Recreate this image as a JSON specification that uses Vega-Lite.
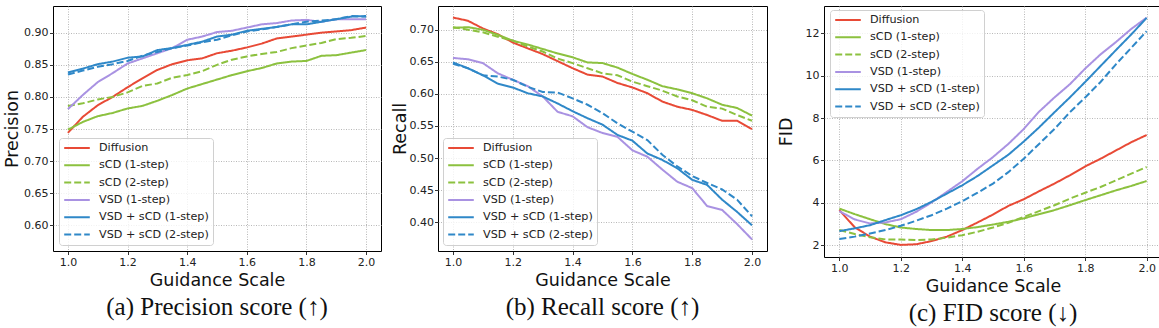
{
  "$schema": "https://vega.github.io/schema/vega-lite/v6.json",
  "background": "white",
  "padding": {"left": 3, "top": 5, "right": 0, "bottom": 0},
  "spacing": 8,
  "align": "none",
  "datasets": {
    "precision": [
      {"g": 1.00, "Diffusion": 0.744, "sCD (1-step)": 0.749, "sCD (2-step)": 0.786, "VSD (1-step)": 0.781, "VSD + sCD (1-step)": 0.838, "VSD + sCD (2-step)": 0.835},
      {"g": 1.05, "Diffusion": 0.769, "sCD (1-step)": 0.761, "sCD (2-step)": 0.790, "VSD (1-step)": 0.803, "VSD + sCD (1-step)": 0.844, "VSD + sCD (2-step)": 0.841},
      {"g": 1.10, "Diffusion": 0.787, "sCD (1-step)": 0.770, "sCD (2-step)": 0.796, "VSD (1-step)": 0.823, "VSD + sCD (1-step)": 0.851, "VSD + sCD (2-step)": 0.847},
      {"g": 1.15, "Diffusion": 0.800, "sCD (1-step)": 0.775, "sCD (2-step)": 0.800, "VSD (1-step)": 0.837, "VSD + sCD (1-step)": 0.855, "VSD + sCD (2-step)": 0.851},
      {"g": 1.20, "Diffusion": 0.815, "sCD (1-step)": 0.782, "sCD (2-step)": 0.807, "VSD (1-step)": 0.852, "VSD + sCD (1-step)": 0.861, "VSD + sCD (2-step)": 0.856},
      {"g": 1.25, "Diffusion": 0.829, "sCD (1-step)": 0.786, "sCD (2-step)": 0.817, "VSD (1-step)": 0.860, "VSD + sCD (1-step)": 0.863, "VSD + sCD (2-step)": 0.864},
      {"g": 1.30, "Diffusion": 0.842, "sCD (1-step)": 0.794, "sCD (2-step)": 0.821, "VSD (1-step)": 0.868, "VSD + sCD (1-step)": 0.873, "VSD + sCD (2-step)": 0.870},
      {"g": 1.35, "Diffusion": 0.851, "sCD (1-step)": 0.803, "sCD (2-step)": 0.830, "VSD (1-step)": 0.876, "VSD + sCD (1-step)": 0.876, "VSD + sCD (2-step)": 0.876},
      {"g": 1.40, "Diffusion": 0.857, "sCD (1-step)": 0.813, "sCD (2-step)": 0.834, "VSD (1-step)": 0.889, "VSD + sCD (1-step)": 0.881, "VSD + sCD (2-step)": 0.880},
      {"g": 1.45, "Diffusion": 0.860, "sCD (1-step)": 0.820, "sCD (2-step)": 0.840, "VSD (1-step)": 0.894, "VSD + sCD (1-step)": 0.886, "VSD + sCD (2-step)": 0.885},
      {"g": 1.50, "Diffusion": 0.868, "sCD (1-step)": 0.827, "sCD (2-step)": 0.850, "VSD (1-step)": 0.901, "VSD + sCD (1-step)": 0.894, "VSD + sCD (2-step)": 0.889},
      {"g": 1.55, "Diffusion": 0.872, "sCD (1-step)": 0.834, "sCD (2-step)": 0.858, "VSD (1-step)": 0.903, "VSD + sCD (1-step)": 0.897, "VSD + sCD (2-step)": 0.896},
      {"g": 1.60, "Diffusion": 0.877, "sCD (1-step)": 0.840, "sCD (2-step)": 0.863, "VSD (1-step)": 0.908, "VSD + sCD (1-step)": 0.903, "VSD + sCD (2-step)": 0.902},
      {"g": 1.65, "Diffusion": 0.883, "sCD (1-step)": 0.845, "sCD (2-step)": 0.867, "VSD (1-step)": 0.913, "VSD + sCD (1-step)": 0.906, "VSD + sCD (2-step)": 0.905},
      {"g": 1.70, "Diffusion": 0.891, "sCD (1-step)": 0.852, "sCD (2-step)": 0.870, "VSD (1-step)": 0.915, "VSD + sCD (1-step)": 0.909, "VSD + sCD (2-step)": 0.909},
      {"g": 1.75, "Diffusion": 0.894, "sCD (1-step)": 0.855, "sCD (2-step)": 0.876, "VSD (1-step)": 0.919, "VSD + sCD (1-step)": 0.913, "VSD + sCD (2-step)": 0.913},
      {"g": 1.80, "Diffusion": 0.897, "sCD (1-step)": 0.856, "sCD (2-step)": 0.880, "VSD (1-step)": 0.920, "VSD + sCD (1-step)": 0.913, "VSD + sCD (2-step)": 0.917},
      {"g": 1.85, "Diffusion": 0.900, "sCD (1-step)": 0.864, "sCD (2-step)": 0.884, "VSD (1-step)": 0.917, "VSD + sCD (1-step)": 0.917, "VSD + sCD (2-step)": 0.919},
      {"g": 1.90, "Diffusion": 0.902, "sCD (1-step)": 0.865, "sCD (2-step)": 0.890, "VSD (1-step)": 0.921, "VSD + sCD (1-step)": 0.921, "VSD + sCD (2-step)": 0.921},
      {"g": 1.95, "Diffusion": 0.904, "sCD (1-step)": 0.869, "sCD (2-step)": 0.892, "VSD (1-step)": 0.921, "VSD + sCD (1-step)": 0.925, "VSD + sCD (2-step)": 0.926},
      {"g": 2.00, "Diffusion": 0.908, "sCD (1-step)": 0.873, "sCD (2-step)": 0.895, "VSD (1-step)": 0.921, "VSD + sCD (1-step)": 0.926, "VSD + sCD (2-step)": 0.925}
    ],
    "recall": [
      {"g": 1.00, "Diffusion": 0.719, "sCD (1-step)": 0.703, "sCD (2-step)": 0.704, "VSD (1-step)": 0.656, "VSD + sCD (1-step)": 0.649, "VSD + sCD (2-step)": 0.647},
      {"g": 1.05, "Diffusion": 0.714, "sCD (1-step)": 0.704, "sCD (2-step)": 0.700, "VSD (1-step)": 0.654, "VSD + sCD (1-step)": 0.640, "VSD + sCD (2-step)": 0.640},
      {"g": 1.10, "Diffusion": 0.702, "sCD (1-step)": 0.700, "sCD (2-step)": 0.696, "VSD (1-step)": 0.648, "VSD + sCD (1-step)": 0.629, "VSD + sCD (2-step)": 0.629},
      {"g": 1.15, "Diffusion": 0.693, "sCD (1-step)": 0.692, "sCD (2-step)": 0.689, "VSD (1-step)": 0.632, "VSD + sCD (1-step)": 0.616, "VSD + sCD (2-step)": 0.627},
      {"g": 1.20, "Diffusion": 0.680, "sCD (1-step)": 0.683, "sCD (2-step)": 0.683, "VSD (1-step)": 0.622, "VSD + sCD (1-step)": 0.610, "VSD + sCD (2-step)": 0.622},
      {"g": 1.25, "Diffusion": 0.671, "sCD (1-step)": 0.677, "sCD (2-step)": 0.674, "VSD (1-step)": 0.612, "VSD + sCD (1-step)": 0.601, "VSD + sCD (2-step)": 0.611},
      {"g": 1.30, "Diffusion": 0.662, "sCD (1-step)": 0.670, "sCD (2-step)": 0.666, "VSD (1-step)": 0.596, "VSD + sCD (1-step)": 0.596, "VSD + sCD (2-step)": 0.603},
      {"g": 1.35, "Diffusion": 0.651, "sCD (1-step)": 0.663, "sCD (2-step)": 0.655, "VSD (1-step)": 0.572, "VSD + sCD (1-step)": 0.585, "VSD + sCD (2-step)": 0.602},
      {"g": 1.40, "Diffusion": 0.640, "sCD (1-step)": 0.657, "sCD (2-step)": 0.648, "VSD (1-step)": 0.565, "VSD + sCD (1-step)": 0.573, "VSD + sCD (2-step)": 0.593},
      {"g": 1.45, "Diffusion": 0.630, "sCD (1-step)": 0.649, "sCD (2-step)": 0.640, "VSD (1-step)": 0.548, "VSD + sCD (1-step)": 0.562, "VSD + sCD (2-step)": 0.583},
      {"g": 1.50, "Diffusion": 0.627, "sCD (1-step)": 0.648, "sCD (2-step)": 0.632, "VSD (1-step)": 0.539, "VSD + sCD (1-step)": 0.552, "VSD + sCD (2-step)": 0.570},
      {"g": 1.55, "Diffusion": 0.617, "sCD (1-step)": 0.641, "sCD (2-step)": 0.629, "VSD (1-step)": 0.533, "VSD + sCD (1-step)": 0.536, "VSD + sCD (2-step)": 0.554},
      {"g": 1.60, "Diffusion": 0.610, "sCD (1-step)": 0.631, "sCD (2-step)": 0.619, "VSD (1-step)": 0.512, "VSD + sCD (1-step)": 0.527, "VSD + sCD (2-step)": 0.541},
      {"g": 1.65, "Diffusion": 0.601, "sCD (1-step)": 0.622, "sCD (2-step)": 0.612, "VSD (1-step)": 0.502, "VSD + sCD (1-step)": 0.507, "VSD + sCD (2-step)": 0.528},
      {"g": 1.70, "Diffusion": 0.588, "sCD (1-step)": 0.612, "sCD (2-step)": 0.605, "VSD (1-step)": 0.482, "VSD + sCD (1-step)": 0.497, "VSD + sCD (2-step)": 0.505},
      {"g": 1.75, "Diffusion": 0.580, "sCD (1-step)": 0.607, "sCD (2-step)": 0.596, "VSD (1-step)": 0.463, "VSD + sCD (1-step)": 0.484, "VSD + sCD (2-step)": 0.487},
      {"g": 1.80, "Diffusion": 0.575, "sCD (1-step)": 0.601, "sCD (2-step)": 0.590, "VSD (1-step)": 0.453, "VSD + sCD (1-step)": 0.466, "VSD + sCD (2-step)": 0.472},
      {"g": 1.85, "Diffusion": 0.567, "sCD (1-step)": 0.593, "sCD (2-step)": 0.580, "VSD (1-step)": 0.425, "VSD + sCD (1-step)": 0.458, "VSD + sCD (2-step)": 0.461},
      {"g": 1.90, "Diffusion": 0.558, "sCD (1-step)": 0.583, "sCD (2-step)": 0.577, "VSD (1-step)": 0.419, "VSD + sCD (1-step)": 0.435, "VSD + sCD (2-step)": 0.451},
      {"g": 1.95, "Diffusion": 0.558, "sCD (1-step)": 0.578, "sCD (2-step)": 0.567, "VSD (1-step)": 0.397, "VSD + sCD (1-step)": 0.416, "VSD + sCD (2-step)": 0.435},
      {"g": 2.00, "Diffusion": 0.545, "sCD (1-step)": 0.566, "sCD (2-step)": 0.558, "VSD (1-step)": 0.373, "VSD + sCD (1-step)": 0.395, "VSD + sCD (2-step)": 0.409}
    ],
    "fid": [
      {"g": 1.00, "Diffusion": 3.66, "sCD (1-step)": 3.73, "sCD (2-step)": 2.72, "VSD (1-step)": 3.61, "VSD + sCD (1-step)": 2.67, "VSD + sCD (2-step)": 2.30},
      {"g": 1.05, "Diffusion": 2.85, "sCD (1-step)": 3.47, "sCD (2-step)": 2.53, "VSD (1-step)": 3.22, "VSD + sCD (1-step)": 2.80, "VSD + sCD (2-step)": 2.41},
      {"g": 1.10, "Diffusion": 2.41, "sCD (1-step)": 3.23, "sCD (2-step)": 2.38, "VSD (1-step)": 3.03, "VSD + sCD (1-step)": 2.95, "VSD + sCD (2-step)": 2.56},
      {"g": 1.15, "Diffusion": 2.14, "sCD (1-step)": 3.00, "sCD (2-step)": 2.28, "VSD (1-step)": 3.08, "VSD + sCD (1-step)": 3.19, "VSD + sCD (2-step)": 2.72},
      {"g": 1.20, "Diffusion": 2.02, "sCD (1-step)": 2.84, "sCD (2-step)": 2.27, "VSD (1-step)": 3.23, "VSD + sCD (1-step)": 3.42, "VSD + sCD (2-step)": 2.92},
      {"g": 1.25, "Diffusion": 2.05, "sCD (1-step)": 2.77, "sCD (2-step)": 2.25, "VSD (1-step)": 3.58, "VSD + sCD (1-step)": 3.70, "VSD + sCD (2-step)": 3.16},
      {"g": 1.30, "Diffusion": 2.20, "sCD (1-step)": 2.72, "sCD (2-step)": 2.28, "VSD (1-step)": 4.02, "VSD + sCD (1-step)": 4.05, "VSD + sCD (2-step)": 3.42},
      {"g": 1.35, "Diffusion": 2.41, "sCD (1-step)": 2.72, "sCD (2-step)": 2.36, "VSD (1-step)": 4.52, "VSD + sCD (1-step)": 4.44, "VSD + sCD (2-step)": 3.73},
      {"g": 1.40, "Diffusion": 2.72, "sCD (1-step)": 2.77, "sCD (2-step)": 2.48, "VSD (1-step)": 5.02, "VSD + sCD (1-step)": 4.83, "VSD + sCD (2-step)": 4.08},
      {"g": 1.45, "Diffusion": 3.08, "sCD (1-step)": 2.86, "sCD (2-step)": 2.64, "VSD (1-step)": 5.61, "VSD + sCD (1-step)": 5.27, "VSD + sCD (2-step)": 4.48},
      {"g": 1.50, "Diffusion": 3.45, "sCD (1-step)": 2.98, "sCD (2-step)": 2.84, "VSD (1-step)": 6.16, "VSD + sCD (1-step)": 5.77, "VSD + sCD (2-step)": 4.91},
      {"g": 1.55, "Diffusion": 3.86, "sCD (1-step)": 3.11, "sCD (2-step)": 3.06, "VSD (1-step)": 6.78, "VSD + sCD (1-step)": 6.27, "VSD + sCD (2-step)": 5.45},
      {"g": 1.60, "Diffusion": 4.17, "sCD (1-step)": 3.27, "sCD (2-step)": 3.34, "VSD (1-step)": 7.48, "VSD + sCD (1-step)": 6.89, "VSD + sCD (2-step)": 6.08},
      {"g": 1.65, "Diffusion": 4.55, "sCD (1-step)": 3.47, "sCD (2-step)": 3.61, "VSD (1-step)": 8.30, "VSD + sCD (1-step)": 7.56, "VSD + sCD (2-step)": 6.78},
      {"g": 1.70, "Diffusion": 4.91, "sCD (1-step)": 3.66, "sCD (2-step)": 3.89, "VSD (1-step)": 8.97, "VSD + sCD (1-step)": 8.27, "VSD + sCD (2-step)": 7.48},
      {"g": 1.75, "Diffusion": 5.30, "sCD (1-step)": 3.89, "sCD (2-step)": 4.20, "VSD (1-step)": 9.59, "VSD + sCD (1-step)": 8.97, "VSD + sCD (2-step)": 8.27},
      {"g": 1.80, "Diffusion": 5.72, "sCD (1-step)": 4.13, "sCD (2-step)": 4.48, "VSD (1-step)": 10.33, "VSD + sCD (1-step)": 9.70, "VSD + sCD (2-step)": 8.97},
      {"g": 1.85, "Diffusion": 6.08, "sCD (1-step)": 4.36, "sCD (2-step)": 4.75, "VSD (1-step)": 11.00, "VSD + sCD (1-step)": 10.45, "VSD + sCD (2-step)": 9.70},
      {"g": 1.90, "Diffusion": 6.47, "sCD (1-step)": 4.59, "sCD (2-step)": 5.06, "VSD (1-step)": 11.58, "VSD + sCD (1-step)": 11.20, "VSD + sCD (2-step)": 10.53},
      {"g": 1.95, "Diffusion": 6.86, "sCD (1-step)": 4.80, "sCD (2-step)": 5.38, "VSD (1-step)": 12.20, "VSD + sCD (1-step)": 11.94, "VSD + sCD (2-step)": 11.31},
      {"g": 2.00, "Diffusion": 7.20, "sCD (1-step)": 5.03, "sCD (2-step)": 5.69, "VSD (1-step)": 12.73, "VSD + sCD (1-step)": 12.72, "VSD + sCD (2-step)": 12.09}
    ]
  },
  "hconcat": [
    {
      "width": 328,
      "height": 245,
      "data": {"name": "precision"},
      "transform": [{"fold": ["Diffusion", "sCD (1-step)", "sCD (2-step)", "VSD (1-step)", "VSD + sCD (1-step)", "VSD + sCD (2-step)"], "as": ["method", "v"]}],
      "title": {"text": "(a) Precision score (↑)"},
      "mark": {"type": "line", "strokeWidth": 2, "clip": true},
      "encoding": {
        "x": {"field": "g", "type": "quantitative", "scale": {"domain": [0.95, 2.05], "nice": false, "zero": false}, "axis": {"values": [1.0, 1.2, 1.4, 1.6, 1.8, 2.0], "format": ".1f", "title": "Guidance Scale"}},
        "y": {"field": "v", "type": "quantitative", "scale": {"domain": [0.56, 0.9416], "nice": false, "zero": false}, "axis": {"values": [0.6, 0.65, 0.7, 0.75, 0.8, 0.85, 0.9], "format": ".2f", "title": "Precision", "labelPadding": 1.5, "titlePadding": 2}},
        "color": {"field": "method", "type": "nominal", "title": null,
          "scale": {"domain": ["Diffusion", "sCD (1-step)", "sCD (2-step)", "VSD (1-step)", "VSD + sCD (1-step)", "VSD + sCD (2-step)"], "range": ["#e84a36", "#8cc13f", "#8cc13f", "#a992e2", "#2f88c8", "#2f88c8"]},
          "legend": {"orient": "none", "legendX": 6, "legendY": 132}},
        "strokeDash": {"field": "method", "type": "nominal", "title": null,
          "scale": {"domain": ["Diffusion", "sCD (1-step)", "sCD (2-step)", "VSD (1-step)", "VSD + sCD (1-step)", "VSD + sCD (2-step)"], "range": [[1, 0], [1, 0], [7, 3], [1, 0], [1, 0], [7, 3]]},
          "legend": {"orient": "none", "legendX": 6, "legendY": 132}}
      }
    },
    {
      "width": 329,
      "height": 245,
      "data": {"name": "recall"},
      "transform": [{"fold": ["Diffusion", "sCD (1-step)", "sCD (2-step)", "VSD (1-step)", "VSD + sCD (1-step)", "VSD + sCD (2-step)"], "as": ["method", "v"]}],
      "title": {"text": "(b) Recall score (↑)"},
      "mark": {"type": "line", "strokeWidth": 2, "clip": true},
      "encoding": {
        "x": {"field": "g", "type": "quantitative", "scale": {"domain": [0.95, 2.05], "nice": false, "zero": false}, "axis": {"values": [1.0, 1.2, 1.4, 1.6, 1.8, 2.0], "format": ".1f", "title": "Guidance Scale"}},
        "y": {"field": "v", "type": "quantitative", "scale": {"domain": [0.355, 0.737], "nice": false, "zero": false}, "axis": {"values": [0.4, 0.45, 0.5, 0.55, 0.6, 0.65, 0.7], "format": ".2f", "title": "Recall", "labelPadding": 1, "titlePadding": 0}},
        "color": {"field": "method", "type": "nominal", "title": null,
          "scale": {"domain": ["Diffusion", "sCD (1-step)", "sCD (2-step)", "VSD (1-step)", "VSD + sCD (1-step)", "VSD + sCD (2-step)"], "range": ["#e84a36", "#8cc13f", "#8cc13f", "#a992e2", "#2f88c8", "#2f88c8"]},
          "legend": {"orient": "none", "legendX": 5, "legendY": 132}},
        "strokeDash": {"field": "method", "type": "nominal", "title": null,
          "scale": {"domain": ["Diffusion", "sCD (1-step)", "sCD (2-step)", "VSD (1-step)", "VSD + sCD (1-step)", "VSD + sCD (2-step)"], "range": [[1, 0], [1, 0], [7, 3], [1, 0], [1, 0], [7, 3]]},
          "legend": {"orient": "none", "legendX": 5, "legendY": 132}}
      }
    },
    {
      "width": 338,
      "height": 251,
      "data": {"name": "fid"},
      "transform": [{"fold": ["Diffusion", "sCD (1-step)", "sCD (2-step)", "VSD (1-step)", "VSD + sCD (1-step)", "VSD + sCD (2-step)"], "as": ["method", "v"]}],
      "title": {"text": "(c) FID score (↓)"},
      "mark": {"type": "line", "strokeWidth": 2, "clip": true},
      "encoding": {
        "x": {"field": "g", "type": "quantitative", "scale": {"domain": [0.95, 2.05], "nice": false, "zero": false}, "axis": {"values": [1.0, 1.2, 1.4, 1.6, 1.8, 2.0], "format": ".1f", "title": "Guidance Scale"}},
        "y": {"field": "v", "type": "quantitative", "scale": {"domain": [1.45, 13.28], "nice": false, "zero": false}, "axis": {"values": [2, 4, 6, 8, 10, 12], "format": "d", "title": "FID", "labelPadding": 1.5, "titlePadding": 10}},
        "color": {"field": "method", "type": "nominal", "title": null,
          "scale": {"domain": ["Diffusion", "sCD (1-step)", "sCD (2-step)", "VSD (1-step)", "VSD + sCD (1-step)", "VSD + sCD (2-step)"], "range": ["#e84a36", "#8cc13f", "#8cc13f", "#a992e2", "#2f88c8", "#2f88c8"]},
          "legend": {"orient": "none", "legendX": 6, "legendY": 4}},
        "strokeDash": {"field": "method", "type": "nominal", "title": null,
          "scale": {"domain": ["Diffusion", "sCD (1-step)", "sCD (2-step)", "VSD (1-step)", "VSD + sCD (1-step)", "VSD + sCD (2-step)"], "range": [[1, 0], [1, 0], [7, 3], [1, 0], [1, 0], [7, 3]]},
          "legend": {"orient": "none", "legendX": 6, "legendY": 4}}
      }
    }
  ],
  "resolve": {
    "scale": {"x": "independent", "y": "independent", "color": "independent", "strokeDash": "independent"},
    "legend": {"color": "independent", "strokeDash": "independent"}
  },
  "config": {
    "font": "DejaVu Sans",
    "view": {"stroke": "#000", "strokeWidth": 1},
    "axis": {
      "domain": false,
      "grid": true,
      "gridColor": "#b0b0b0",
      "gridDash": [1, 1.5],
      "gridWidth": 0.9,
      "ticks": true,
      "tickColor": "#000",
      "tickSize": 3.5,
      "tickWidth": 0.8,
      "labelFont": "DejaVu Sans",
      "labelFontSize": 11,
      "labelColor": "#222",
      "labelPadding": 2,
      "titleFont": "DejaVu Sans",
      "titleFontSize": 17.5,
      "titleFontWeight": "normal",
      "titleColor": "#111",
      "titlePadding": 4
    },
    "legend": {
      "fillColor": "rgba(255,255,255,0.8)",
      "strokeColor": "#d0d0d0",
      "cornerRadius": 3,
      "padding": 4,
      "rowPadding": 5.3,
      "clipHeight": 12,
      "symbolType": "stroke",
      "symbolSize": 655,
      "symbolStrokeWidth": 2,
      "labelFont": "DejaVu Sans",
      "labelFontSize": 11.2,
      "labelColor": "#222",
      "labelOffset": 8,
      "labelLimit": 300
    },
    "title": {
      "orient": "bottom",
      "anchor": "middle",
      "font": "Liberation Serif",
      "fontSize": 25,
      "fontWeight": "normal",
      "color": "#111",
      "offset": 6
    }
  }
}
